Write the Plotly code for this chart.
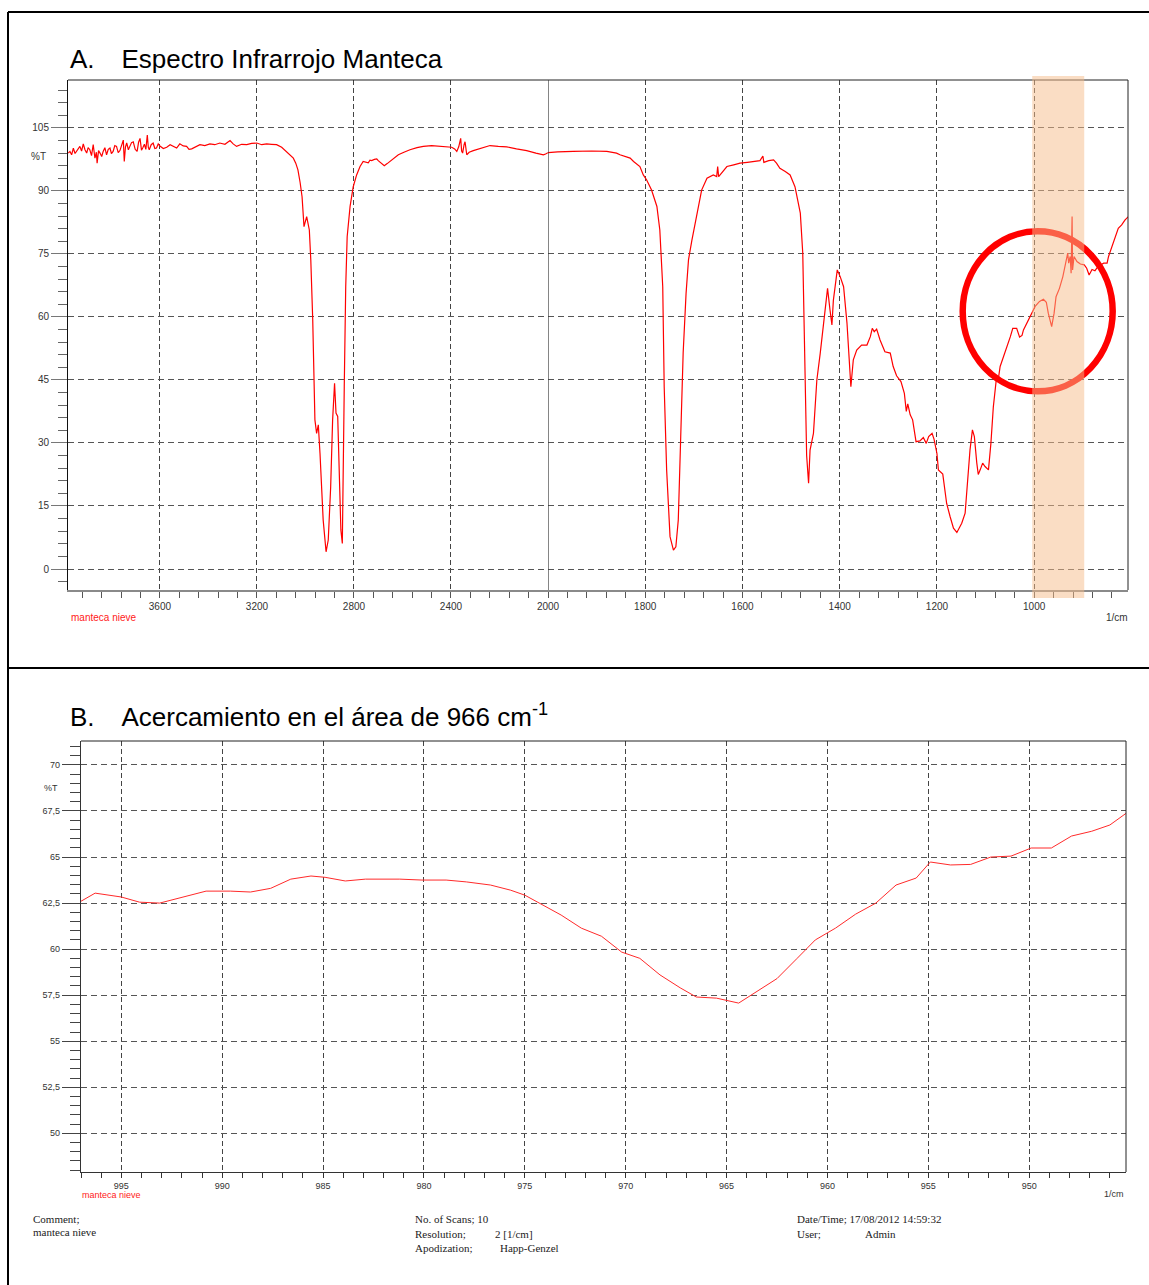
import plotly.graph_objects as go

# ---------------- data ----------------
# Panel A: full IR spectrum of lard (wavenumber in 1/cm, transmittance in %T)
wn_a = [
    3978, 3971, 3964, 3957, 3950, 3943, 3937, 3930, 3923, 3916, 3909, 3902, 3896, 3889,
    3882, 3875, 3868, 3862, 3859, 3853, 3847, 3840, 3834, 3827, 3820, 3813, 3806, 3800,
    3793, 3786, 3779, 3772, 3765, 3758, 3751, 3747, 3742, 3737, 3730, 3724, 3717, 3710,
    3702, 3694, 3688, 3682, 3676, 3671, 3664, 3658, 3652, 3648, 3644, 3636, 3628, 3621,
    3614, 3607, 3600, 3586, 3572, 3558, 3545, 3531, 3518, 3504, 3490, 3480, 3469, 3452,
    3435, 3415, 3394, 3374, 3353, 3332, 3311, 3298, 3284, 3263, 3242, 3222, 3201, 3180,
    3160, 3140, 3119, 3098, 3078, 3064, 3050, 3040, 3031, 3022, 3014, 3006, 2995, 2984,
    2978, 2970, 2961, 2954, 2947, 2940, 2927, 2915, 2906, 2896, 2888, 2880, 2874, 2867,
    2861, 2854, 2848, 2844, 2840, 2834, 2828, 2816, 2803, 2789, 2775, 2762, 2750, 2741,
    2734, 2727, 2716, 2706, 2700, 2693, 2684, 2675, 2663, 2652, 2635, 2617, 2594, 2569,
    2540, 2514, 2480, 2445, 2420, 2397, 2385, 2376, 2368, 2360, 2356, 2352, 2346, 2342,
    2335, 2325, 2308, 2275, 2239, 2205, 2170, 2130, 2088, 2050, 2019, 2010, 2000,
    1980, 1948, 1910, 1879, 1859, 1852, 1840, 1831, 1824, 1811, 1804, 1797, 1787, 1776,
    1770, 1764, 1761, 1756, 1749, 1742, 1737, 1732, 1727, 1722, 1716, 1711, 1704, 1694,
    1684, 1673, 1660, 1653, 1651, 1649, 1640, 1632, 1618, 1605, 1590, 1578, 1564, 1558,
    1556, 1546, 1536, 1530, 1523, 1512, 1502, 1492, 1481, 1476, 1473, 1471, 1468, 1464,
    1461, 1454, 1447, 1440, 1434, 1430, 1425, 1420, 1416, 1413, 1405, 1399, 1392, 1385,
    1380, 1377, 1372, 1365, 1355, 1344, 1337, 1333, 1329, 1324, 1317, 1307, 1296, 1290,
    1283, 1274, 1267, 1263, 1260, 1255, 1250, 1243, 1235, 1228, 1222, 1217, 1210, 1206,
    1200, 1197, 1188, 1180, 1173, 1166, 1159, 1149, 1142, 1136, 1132, 1127, 1123, 1118,
    1115, 1111, 1106, 1101, 1094, 1089, 1084, 1078, 1073, 1070, 1063, 1056, 1049, 1044,
    1036, 1030, 1025, 1022, 1015, 1007, 998, 989, 981, 975, 971, 964, 959, 955,
    948, 941, 936, 931, 929, 926, 924, 922, 921, 918, 912, 905, 897, 892,
    887, 881, 875, 868, 857, 850, 847, 840, 833, 827, 820, 813, 806,
]
t_a = [
    99.0, 99.4, 98.6, 100.2, 98.9, 99.4, 100.1, 100.6, 99.5, 101.2, 99.8, 99.0, 100.3, 99.8,
    98.4, 101.0, 97.8, 99.2, 96.6, 99.6, 99.0, 98.2, 99.4, 100.3, 98.6, 99.9, 100.2, 98.9,
    99.4, 100.8, 100.6, 99.1, 99.6, 100.9, 102.1, 97.0, 100.5, 101.4, 99.8, 100.6, 101.5, 101.7,
    99.9, 99.4, 101.6, 102.5, 99.7, 100.2, 101.1, 99.9, 103.3, 100.4, 99.8, 101.0, 101.4, 100.1,
    100.2, 101.2, 100.7, 100.1, 100.4, 101.0, 100.7, 100.2, 101.2, 100.7, 100.6, 99.9, 100.0, 100.6,
    101.0, 100.8, 101.2, 101.0, 101.4, 101.1, 102.0, 101.2, 100.6, 101.1, 101.0, 101.3, 101.4, 101.0,
    101.2, 101.1, 101.0, 100.4, 99.4, 98.6, 97.8, 96.6, 95.0, 92.0, 88.6, 81.5, 83.9, 80.7,
    73.6, 59.3, 35.5, 32.3, 34.3, 27.5, 11.7, 4.1, 6.9, 19.6, 35.5, 44.2, 37.1, 36.3,
    23.6, 9.3, 6.1, 19.6, 43.4, 67.2, 79.1, 86.3, 91.0, 93.8, 95.8, 97.0, 96.8, 96.7,
    97.3, 97.2, 97.5, 97.6, 97.2, 96.9, 96.4, 96.0, 96.5, 97.0, 97.8, 98.6, 99.2, 99.8,
    100.3, 100.6, 100.8, 100.7, 100.5, 100.4, 100.0, 99.4, 100.5, 102.5, 99.5, 99.0, 101.0, 101.7,
    98.6, 99.2, 99.6, 100.2, 100.8, 100.6, 100.5, 100.0, 99.6, 99.0, 98.6, 98.8, 99.1,
    99.3, 99.4, 99.5, 99.4, 99.0, 98.6, 98.2, 97.8, 97.0, 95.8, 93.8, 92.6, 90.2, 86.3,
    80.7, 67.2, 43.4, 23.6, 7.7, 4.5, 5.3, 11.7, 31.5, 51.4, 65.6, 73.6, 78.3, 84.7,
    90.2, 93.0, 93.8, 93.4, 95.8, 93.4, 94.8, 95.8, 96.2, 96.6, 96.8, 97.0, 97.2, 98.3,
    96.8, 97.2, 97.4, 96.6, 95.4, 94.6, 93.8, 91.0, 84.7, 75.2, 59.3, 43.4, 27.0, 20.4,
    28.3, 32.3, 45.0, 51.4, 57.7, 60.9, 66.8, 61.7, 58.1, 64.0, 71.2, 69.6, 67.2, 58.5,
    49.0, 43.4, 49.8, 52.1, 53.3, 53.3, 55.3, 57.3, 56.5, 57.1, 54.5, 51.7, 51.4, 48.2,
    46.0, 44.6, 41.8, 37.5, 39.3, 36.7, 35.5, 30.3, 30.5, 31.3, 29.9, 31.5, 32.3, 30.9,
    27.5, 23.6, 22.6, 15.6, 12.5, 9.7, 8.7, 10.9, 13.3, 22.0, 28.3, 33.1, 31.5, 25.2,
    22.5, 23.6, 25.2, 24.4, 23.6, 29.9, 38.6, 45.0, 45.8, 48.2, 50.5, 52.9, 55.3, 57.3,
    57.3, 55.2, 55.6, 56.9, 58.5, 60.5, 62.5, 63.7, 64.2, 63.5, 60.9, 57.7, 60.9, 64.8,
    66.8, 69.6, 72.8, 75.2, 72.8, 74.4, 70.4, 83.9, 71.2, 74.4, 73.2, 72.6, 72.4, 71.6,
    70.0, 71.3, 71.0, 72.1, 72.8, 72.8, 74.4, 76.8, 79.1, 81.1, 81.9, 83.1, 83.9,
]

# Panel B: zoom on the 966 1/cm band
wn_b = [997.0, 996.3, 995.0, 994.1, 993.1, 992.1, 990.8, 989.6, 988.6, 987.6, 986.6, 985.6,
        984.9, 983.9, 982.9, 981.2, 980.1, 978.9, 977.9, 976.7, 975.7, 975.0, 974.2, 973.2,
        972.2, 971.2, 970.2, 969.3, 968.3, 967.3, 966.5, 965.5, 964.4, 963.8, 962.5, 961.5,
        960.6, 959.6, 958.6, 957.6, 956.6, 955.6, 954.9, 953.9, 952.9, 951.9, 950.9, 949.9,
        948.9, 947.9, 946.9, 946.0, 945.1]
t_b = [62.6, 63.04, 62.83, 62.55, 62.5, 62.8, 63.15, 63.15, 63.1, 63.3, 63.8, 63.97,
       63.9, 63.7, 63.8, 63.8, 63.75, 63.75, 63.65, 63.48, 63.2, 62.93, 62.45, 61.85,
       61.14, 60.7, 59.84, 59.5, 58.6, 57.9, 57.4, 57.34, 57.07, 57.5, 58.4, 59.5,
       60.5, 61.14, 61.9, 62.5, 63.48, 63.86, 64.73, 64.57, 64.6, 65.0, 65.05, 65.49,
       65.49, 66.14, 66.4, 66.74, 67.45]

# tick labels
ticks_a_hi = [3600, 3200, 2800, 2400, 2000]
ticks_a_lo = [1800, 1600, 1400, 1200, 1000]
ticks_a_y = [0, 15, 30, 45, 60, 75, 90, 105]
ticks_b_x = [995, 990, 985, 980, 975, 970, 965, 960, 955, 950]
ticks_b_y = [50, 52.5, 55, 57.5, 60, 62.5, 65, 67.5, 70]
ticks_b_y_text = ["50", "52,5", "55", "57,5", "60", "62,5", "65", "67,5", "70"]

# ---------------- layout geometry ----------------
W, H = 1149, 1285
ML, MR, MT, MB = 68, 21, 80, 113
PW = W - ML - MR
PH = H - MT - MB


def px(xp):
    return (xp - ML) / PW


def py(yp):
    return (H - MB - yp) / PH


split = px(548)
a_bottom = py(590)
b_top = py(741)

fig = go.Figure()

# Spectrum is drawn on two x axes: expanded scale below 2000 1/cm
hi_x = [w for w in wn_a if w >= 2000]
hi_y = [t for w, t in zip(wn_a, t_a) if w >= 2000]
lo_x = [w for w in wn_a if w <= 2000]
lo_y = [t for w, t in zip(wn_a, t_a) if w <= 2000]

fig.add_trace(go.Scatter(x=hi_x, y=hi_y, mode="lines", xaxis="x", yaxis="y",
                         line=dict(color="#ff0000", width=1.2), hoverinfo="skip"))
fig.add_trace(go.Scatter(x=lo_x, y=lo_y, mode="lines", xaxis="x2", yaxis="y2",
                         line=dict(color="#ff0000", width=1.2), hoverinfo="skip"))
fig.add_trace(go.Scatter(x=wn_b, y=t_b, mode="lines", xaxis="x3", yaxis="y3",
                         line=dict(color="#ff2a2a", width=1), hoverinfo="skip"))

tickfont_a = dict(family="Liberation Sans, Arial, sans-serif", size=10, color="#333")
tickfont_b = dict(family="Liberation Sans, Arial, sans-serif", size=9, color="#333")
grid_h = dict(showgrid=True, gridcolor="#555", gridwidth=1, griddash="6px,4px")
grid_v = dict(showgrid=True, gridcolor="#444", gridwidth=1, griddash="5px,3px")

fig.update_layout(
    width=W, height=H,
    margin=dict(l=ML, r=MR, t=MT, b=MB, autoexpand=False),
    paper_bgcolor="white", plot_bgcolor="white",
    showlegend=False,
    xaxis=dict(domain=[0, split], range=[3979, 2000], anchor="y",
               tickmode="array", tickvals=ticks_a_hi, tickfont=tickfont_a,
               ticks="outside", ticklen=6, tickcolor="#555",
               minor=dict(dtick=80, tick0=2000, ticks="outside", ticklen=6,
                          tickcolor="#555", showgrid=False),
               showline=True, linecolor="#8a8a8a", linewidth=1.5,
               zeroline=False, **grid_v),
    xaxis2=dict(domain=[split, 1], range=[2000, 807], anchor="y2",
                tickmode="array", tickvals=ticks_a_lo, tickfont=tickfont_a,
                ticks="outside", ticklen=6, tickcolor="#555",
                minor=dict(dtick=40, tick0=1000, ticks="outside", ticklen=6,
                           tickcolor="#555", showgrid=False),
                showline=True, linecolor="#8a8a8a", linewidth=1.5,
                zeroline=False, **grid_v),
    yaxis=dict(domain=[a_bottom, 1], range=[-5, 116.4], anchor="x",
               tickmode="array", tickvals=ticks_a_y, tickfont=tickfont_a,
               ticks="outside", ticklen=16, tickcolor="#777",
               minor=dict(dtick=3, tick0=0, ticks="outside", ticklen=9,
                          tickcolor="#666", showgrid=False),
               showline=True, linecolor="#111", linewidth=1,
               zeroline=False, **grid_h),
    yaxis2=dict(domain=[a_bottom, 1], matches="y", anchor="x2",
                tickmode="array", tickvals=ticks_a_y, showticklabels=False,
                ticks="", showline=False, zeroline=False, **grid_h),
    xaxis3=dict(domain=[px(81), px(1126)], range=[997, 945.2], anchor="y3",
                tickmode="array", tickvals=ticks_b_x, tickfont=tickfont_b,
                ticks="outside", ticklen=5, tickcolor="#333",
                minor=dict(dtick=1, tick0=950, ticks="outside", ticklen=5,
                           tickcolor="#333", showgrid=False),
                showline=True, linecolor="#333", linewidth=1.2,
                zeroline=False, **grid_v),
    yaxis3=dict(domain=[0, b_top], range=[47.9, 71.3], anchor="x3",
                tickmode="array", tickvals=ticks_b_y, ticktext=ticks_b_y_text,
                tickfont=tickfont_b,
                ticks="outside", ticklen=18, tickcolor="#444",
                minor=dict(dtick=0.5, tick0=50, ticks="outside", ticklen=10,
                           tickcolor="#444", showgrid=False),
                showline=True, linecolor="#333", linewidth=1.2,
                zeroline=False, **grid_h),
)

shapes = []
# outer frame and panel divider
frame = dict(type="line", xref="paper", yref="paper", line=dict(color="black", width=2))
shapes.append(dict(frame, x0=px(8), x1=px(1160), y0=py(12), y1=py(12)))
shapes.append(dict(frame, x0=px(8), x1=px(8), y0=py(12), y1=py(1300)))
shapes.append(dict(frame, x0=px(8), x1=px(1160), y0=py(668), y1=py(668)))
# plot boxes (top and right borders)
box = dict(type="line", xref="paper", yref="paper", line=dict(color="#222", width=1))
shapes.append(dict(box, x0=0, x1=1, y0=1, y1=1))
shapes.append(dict(box, x0=1, x1=1, y0=a_bottom, y1=1))
shapes.append(dict(box, x0=px(81), x1=px(1126), y0=b_top, y1=b_top))
shapes.append(dict(box, x0=px(1126), x1=px(1126), y0=0, y1=b_top))
# scale change at 2000 1/cm
shapes.append(dict(type="line", xref="x2", yref="paper", x0=2000, x1=2000,
                   y0=a_bottom, y1=1, line=dict(color="#333", width=1.2), layer="above"))
# highlight of the 966 1/cm region
shapes.append(dict(type="circle", xref="x2", yref="y", x0=1147, x1=838.5, y0=42.3, y1=80.4,
                   line=dict(color="#ff0000", width=6.5), layer="above"))
shapes.append(dict(type="rect", xref="x2", yref="paper", x0=1004, x1=897,
                   y0=py(598), y1=py(76), fillcolor="rgb(245,188,139)", opacity=0.51,
                   line=dict(width=0), layer="above"))
fig.update_layout(shapes=shapes)

NB = "\u00a0"
GAP = NB * 3 + "\u2009"
ann = []


def text(x, y, s, size, color="black", family="Liberation Sans, Arial, sans-serif",
         xanchor="left"):
    ann.append(dict(xref="paper", yref="paper", x=px(x), y=py(y), text=s, showarrow=False,
                    xanchor=xanchor, yanchor="middle",
                    font=dict(family=family, size=size, color=color)))


text(68, 59, "A." + GAP + "Espectro Infrarrojo Manteca", 26)
text(68, 716, "B." + GAP + "Acercamiento en el área de 966 cm<sup>-1</sup>", 26)
text(38, 157, "%T", 10, "#333", xanchor="center")
text(69, 617, "manteca nieve", 10, "#ff2020")
text(1130, 617, "1/cm", 10, "#333", xanchor="right")
text(51, 788, "%T", 9, "#333", xanchor="center")
text(80, 1195, "manteca nieve", 9, "#ff2020")
text(1126, 1194, "1/cm", 9, "#333", xanchor="right")

serif = "Liberation Serif, Times New Roman, serif"
text(31, 1219, "Comment;", 11, "#222", serif)
text(31, 1232, "manteca nieve", 11, "#222", serif)
text(413, 1219, "No. of Scans; 10", 11, "#222", serif)
text(413, 1234, "Resolution;", 11, "#222", serif)
text(493, 1234, "2 [1/cm]", 11, "#222", serif)
text(413, 1248, "Apodization;", 11, "#222", serif)
text(498, 1248, "Happ-Genzel", 11, "#222", serif)
text(795, 1219, "Date/Time; 17/08/2012 14:59:32", 11, "#222", serif)
text(795, 1234, "User;", 11, "#222", serif)
text(863, 1234, "Admin", 11, "#222", serif)

fig.update_layout(annotations=ann)

fig.write_html("out.html")
